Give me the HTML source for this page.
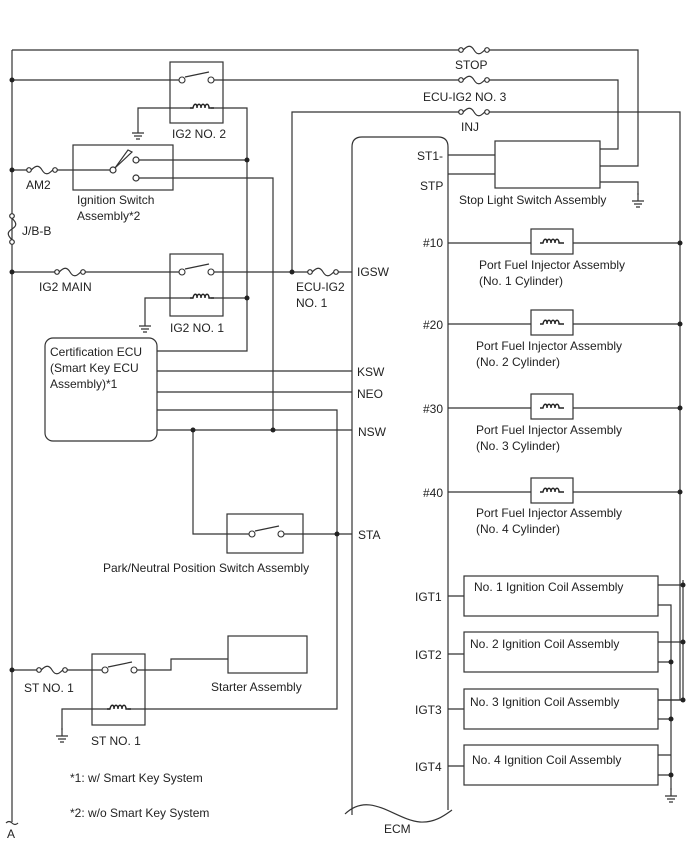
<!DOCTYPE html>
<html><head><meta charset="utf-8"><style>
html,body{margin:0;padding:0;background:#fff;}
svg{display:block;}
text{font-family:"Liberation Sans",sans-serif;font-size:12px;fill:#222;}
</style></head><body>
<svg width="688" height="852" viewBox="0 0 688 852" xmlns="http://www.w3.org/2000/svg">
<defs>
<g id="fuse"><circle cx="0" cy="0" r="2.3" fill="#fff" stroke="#333" stroke-width="1.2"/><path d="M2.3,0 C7,-5 10,-5 13,0 S19,5 23.7,0" fill="none" stroke="#333" stroke-width="1.2"/><circle cx="26" cy="0" r="2.3" fill="#fff" stroke="#333" stroke-width="1.2"/></g>
<g id="gnd"><path d="M0,0 v8 M-6,8 h12 M-4,11 h8 M-2,14 h4" stroke="#333" stroke-width="1.2" fill="none"/></g>
<g id="coil"><path d="M-12,0 h3 c1,-5 4,-5 4,0 c0,-5 4,-5 4,0 c0,-5 4,-5 4,0 c0,-5 4,-5 4,0 h5" fill="none" stroke="#222" stroke-width="1.4"/></g>
<g id="sw"><circle cx="0" cy="0" r="3" fill="#fff" stroke="#333" stroke-width="1.1"/><circle cx="29" cy="0" r="3" fill="#fff" stroke="#333" stroke-width="1.1"/><path d="M3,-3 L27,-8" stroke="#333" stroke-width="1.2"/></g>
</defs>
<g stroke="#333" stroke-width="1.2" fill="none">
<path d="M12,50 V822"/>
<path d="M12,50 H459 M488,50 H638 V166 H600"/>
<path d="M12,80 H180 M209,80 H459 M488,80 H618 V149 H600"/>
<rect x="170" y="62" width="53" height="61"/>
<path d="M138,125 V108 H193 M211,108 H247 V351 H157"/>
<path d="M292,272 V112 H459 M488,112 H680 V700 H658"/>
<path d="M12,170 H27 M55,170 H110"/>
<rect x="73" y="145" width="100" height="45"/>
<path d="M139,160 H247 M139,178 H273 V430"/>
<path d="M12,272 H55 M83,272 H180 M209,272 H308 M336,272 H352"/>
<rect x="170" y="254" width="53" height="62"/>
<path d="M145,318 V298 H193 M211,298 H247"/>
<rect x="45" y="338" width="112" height="103" rx="8"/>
<path d="M157,371 H352 M157,392 H352 M157,410 H337 V709 H128 M157,430 H352"/>
<path d="M193,430 V534 H249 M284,534 H352"/>
<rect x="227" y="514" width="76" height="39"/>
<path d="M352,815 V147 Q352,137 362,137 H438 Q448,137 448,147 V810"/>
<path d="M345,814 C370,790 395,820 420,822 C435,823 445,815 452,810"/>
<path d="M448,155 H495 M448,174 H495 M600,182 H638 V195"/>
<rect x="495" y="141" width="105" height="47"/>
<path d="M448,243 H680 M448,324 H680 M448,408 H680 M448,492 H680"/>
<rect x="531" y="229" width="42" height="25" fill="#fff"/>
<rect x="531" y="310" width="42" height="25" fill="#fff"/>
<rect x="531" y="394" width="42" height="25" fill="#fff"/>
<rect x="531" y="478" width="42" height="25" fill="#fff"/>
<path d="M448,596 H464 M448,654 H464 M448,709 H464 M448,766 H464"/>
<rect x="464" y="576" width="194" height="40"/>
<rect x="464" y="632" width="194" height="40"/>
<rect x="464" y="689" width="194" height="40"/>
<rect x="464" y="745" width="194" height="40"/>
<path d="M658,585 H683 M658,642 H683 M658,700 H683 M683,580 V700"/>
<path d="M658,605 H671 V790 M658,662 H671 M658,719 H671 M658,755 H671 M658,775 H671"/>
<path d="M12,670 H37 M65,670 H102 M137,670 H171 V659 H228"/>
<rect x="92" y="654" width="53" height="71"/>
<rect x="228" y="636" width="79" height="37"/>
<path d="M62,730 V709 H110"/>
<path d="M6,823 q3,-3 6,0 q3,3 6,0"/>
</g>
<use href="#sw" x="182" y="80"/><use href="#coil" x="202" y="108"/>
<use href="#sw" x="182" y="272"/><use href="#coil" x="202" y="298"/>
<use href="#sw" x="252" y="534"/>
<use href="#sw" x="105" y="670"/><use href="#coil" x="119" y="709"/>
<use href="#coil" x="552" y="243"/><use href="#coil" x="552" y="324"/>
<use href="#coil" x="552" y="408"/><use href="#coil" x="552" y="492"/>
<g stroke="#333" stroke-width="1.2" fill="#fff"><circle cx="113" cy="170" r="3"/><circle cx="136" cy="160" r="3"/><circle cx="136" cy="178" r="3"/><path d="M115,168 L128,150 L132,152 Z" fill="none"/></g>
<use href="#fuse" x="461" y="50"/><use href="#fuse" x="461" y="80"/><use href="#fuse" x="461" y="112"/>
<use href="#fuse" x="29" y="170"/><use href="#fuse" x="57" y="272"/><use href="#fuse" x="310" y="272"/>
<use href="#fuse" x="39" y="670"/>
<use href="#fuse" transform="translate(12,216) rotate(90)"/>
<use href="#gnd" x="138" y="125"/><use href="#gnd" x="145" y="318"/><use href="#gnd" x="638" y="193"/>
<use href="#gnd" x="671" y="788"/><use href="#gnd" x="62" y="728"/>
<g fill="#222">
<circle cx="12" cy="80" r="2.5"/><circle cx="12" cy="170" r="2.5"/><circle cx="12" cy="272" r="2.5"/><circle cx="12" cy="670" r="2.5"/>
<circle cx="247" cy="160" r="2.5"/><circle cx="247" cy="298" r="2.5"/><circle cx="292" cy="272" r="2.5"/>
<circle cx="193" cy="430" r="2.5"/><circle cx="273" cy="430" r="2.5"/><circle cx="337" cy="534" r="2.5"/>
<circle cx="680" cy="243" r="2.5"/><circle cx="680" cy="324" r="2.5"/><circle cx="680" cy="408" r="2.5"/><circle cx="680" cy="492" r="2.5"/>
<circle cx="683" cy="585" r="2.5"/><circle cx="683" cy="642" r="2.5"/><circle cx="683" cy="700" r="2.5"/>
<circle cx="671" cy="662" r="2.5"/><circle cx="671" cy="719" r="2.5"/><circle cx="671" cy="775" r="2.5"/>
</g>
<text x="455" y="69">STOP</text>
<text x="423" y="101">ECU-IG2 NO. 3</text>
<text x="461" y="131">INJ</text>
<text x="172" y="138">IG2 NO. 2</text>
<text x="26" y="189">AM2</text>
<text x="77" y="204">Ignition Switch</text>
<text x="77" y="220">Assembly*2</text>
<text x="22" y="235">J/B-B</text>
<text x="39" y="291">IG2 MAIN</text>
<text x="296" y="291">ECU-IG2</text>
<text x="296" y="307">NO. 1</text>
<text x="170" y="332">IG2 NO. 1</text>
<text x="357" y="276">IGSW</text>
<text x="50" y="356">Certification ECU</text>
<text x="50" y="372">(Smart Key ECU</text>
<text x="50" y="388">Assembly)*1</text>
<text x="357" y="376">KSW</text>
<text x="357" y="398">NEO</text>
<text x="358" y="436">NSW</text>
<text x="358" y="539">STA</text>
<text x="103" y="572">Park/Neutral Position Switch Assembly</text>
<text x="417" y="160">ST1-</text>
<text x="420" y="190">STP</text>
<text x="459" y="204">Stop Light Switch Assembly</text>
<text x="423" y="247">#10</text><text x="423" y="329">#20</text><text x="423" y="413">#30</text><text x="423" y="497">#40</text>
<text x="479" y="269">Port Fuel Injector Assembly</text><text x="479" y="285">(No. 1 Cylinder)</text>
<text x="476" y="350">Port Fuel Injector Assembly</text><text x="476" y="366">(No. 2 Cylinder)</text>
<text x="476" y="434">Port Fuel Injector Assembly</text><text x="476" y="450">(No. 3 Cylinder)</text>
<text x="476" y="517">Port Fuel Injector Assembly</text><text x="476" y="533">(No. 4 Cylinder)</text>
<text x="415" y="601">IGT1</text><text x="415" y="659">IGT2</text><text x="415" y="714">IGT3</text><text x="415" y="771">IGT4</text>
<text x="474" y="591">No. 1 Ignition Coil Assembly</text>
<text x="470" y="648">No. 2 Ignition Coil Assembly</text>
<text x="470" y="706">No. 3 Ignition Coil Assembly</text>
<text x="472" y="764">No. 4 Ignition Coil Assembly</text>
<text x="24" y="692">ST NO. 1</text>
<text x="211" y="691">Starter Assembly</text>
<text x="91" y="745">ST NO. 1</text>
<text x="70" y="782">*1: w/ Smart Key System</text>
<text x="70" y="817">*2: w/o Smart Key System</text>
<text x="384" y="833">ECM</text>
<text x="7" y="838">A</text>
</svg>
</body></html>
